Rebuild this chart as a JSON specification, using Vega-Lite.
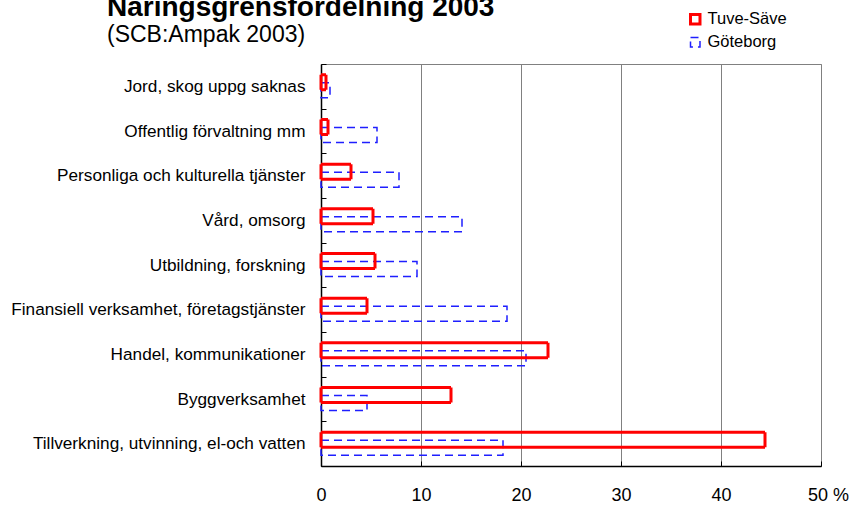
{
  "$schema": "https://vega.github.io/schema/vega-lite/v6.json",
  "width": 500,
  "height": 402,
  "autosize": {"type": "none"},
  "padding": {"left": 321, "top": 64, "right": 31, "bottom": 40},
  "background": "white",
  "config": {
    "font": "Liberation Sans",
    "view": {"stroke": "#808080", "strokeWidth": 1}
  },
  "title": {
    "text": "Näringsgrensfördelning 2003",
    "subtitle": "(SCB:Ampak 2003)",
    "anchor": "start",
    "frame": "group",
    "dx": -214,
    "fontSize": 28,
    "fontWeight": "bold",
    "color": "#000000",
    "subtitleFontSize": 23,
    "subtitleColor": "#000000",
    "subtitlePadding": 2,
    "offset": -36
  },
  "data": {
    "values": [
      {"category": "Jord, skog uppg saknas", "series": "Tuve-Säve", "value": 0.5},
      {"category": "Jord, skog uppg saknas", "series": "Göteborg", "value": 0.9},
      {"category": "Offentlig förvaltning mm", "series": "Tuve-Säve", "value": 0.7},
      {"category": "Offentlig förvaltning mm", "series": "Göteborg", "value": 5.6},
      {"category": "Personliga och kulturella tjänster", "series": "Tuve-Säve", "value": 3.0},
      {"category": "Personliga och kulturella tjänster", "series": "Göteborg", "value": 7.8},
      {"category": "Vård, omsorg", "series": "Tuve-Säve", "value": 5.2},
      {"category": "Vård, omsorg", "series": "Göteborg", "value": 14.1},
      {"category": "Utbildning, forskning", "series": "Tuve-Säve", "value": 5.4},
      {"category": "Utbildning, forskning", "series": "Göteborg", "value": 9.6},
      {"category": "Finansiell verksamhet, företagstjänster", "series": "Tuve-Säve", "value": 4.6},
      {"category": "Finansiell verksamhet, företagstjänster", "series": "Göteborg", "value": 18.6},
      {"category": "Handel, kommunikationer", "series": "Tuve-Säve", "value": 22.7},
      {"category": "Handel, kommunikationer", "series": "Göteborg", "value": 20.5},
      {"category": "Byggverksamhet", "series": "Tuve-Säve", "value": 13.0},
      {"category": "Byggverksamhet", "series": "Göteborg", "value": 4.6},
      {"category": "Tillverkning, utvinning, el-och vatten", "series": "Tuve-Säve", "value": 44.4},
      {"category": "Tillverkning, utvinning, el-och vatten", "series": "Göteborg", "value": 18.2}
    ]
  },
  "encoding": {
    "y": {
      "field": "category",
      "type": "nominal",
      "sort": null,
      "scale": {"paddingInner": 0, "paddingOuter": 0},
      "axis": {
        "title": null,
        "tickBand": "extent",
        "labelFontSize": 17.2,
        "labelLimit": 400,
        "labelColor": "#000000",
        "domainColor": "#000000",
        "domainWidth": 1.5,
        "tickColor": "#000000",
        "tickSize": -5,
        "labelPadding": 21
      }
    },
    "x": {
      "field": "value",
      "type": "quantitative",
      "scale": {"domain": [0, 50], "nice": false},
      "axis": {
        "title": null,
        "values": [0, 10, 20, 30, 40, 50],
        "grid": true,
        "gridColor": "#808080",
        "gridWidth": 1,
        "domainColor": "#000000",
        "domainWidth": 1.5,
        "tickColor": "#000000",
        "tickSize": -5,
        "labelPadding": 25,
        "labelFontSize": 18,
        "labelColor": "#000000",
        "labelFlush": false,
        "labelExpr": "datum.value == 50 ? '50 %' : datum.label",
        "labelOffset": {"condition": {"test": "datum.value == 50", "value": 7}, "value": 0}
      }
    },
    "color": {
      "field": "series",
      "type": "nominal",
      "scale": {"domain": ["Tuve-Säve", "Göteborg"], "range": ["#ff0000", "#1f1fff"]},
      "legend": {
        "title": null,
        "orient": "none",
        "legendX": 366,
        "legendY": -53,
        "symbolType": "square",
        "symbolSize": 90,
        "labelFontSize": 16.5,
        "labelColor": "#000000",
        "labelOffset": 4,
        "rowPadding": 4
      }
    },
    "strokeDash": {
      "field": "series",
      "type": "nominal",
      "scale": {"domain": ["Tuve-Säve", "Göteborg"], "range": [[1, 0], [8, 5]]}
    },
    "strokeWidth": {
      "field": "series",
      "type": "nominal",
      "scale": {"type": "ordinal", "domain": ["Tuve-Säve", "Göteborg"], "range": [3, 1.5]}
    }
  },
  "layer": [
    {
      "transform": [{"filter": "datum.series == 'Göteborg'"}],
      "mark": {"type": "bar", "filled": false, "height": 15, "yOffset": 4}
    },
    {
      "transform": [{"filter": "datum.series == 'Tuve-Säve'"}],
      "mark": {"type": "bar", "filled": false, "height": 15, "yOffset": -4}
    }
  ]
}
